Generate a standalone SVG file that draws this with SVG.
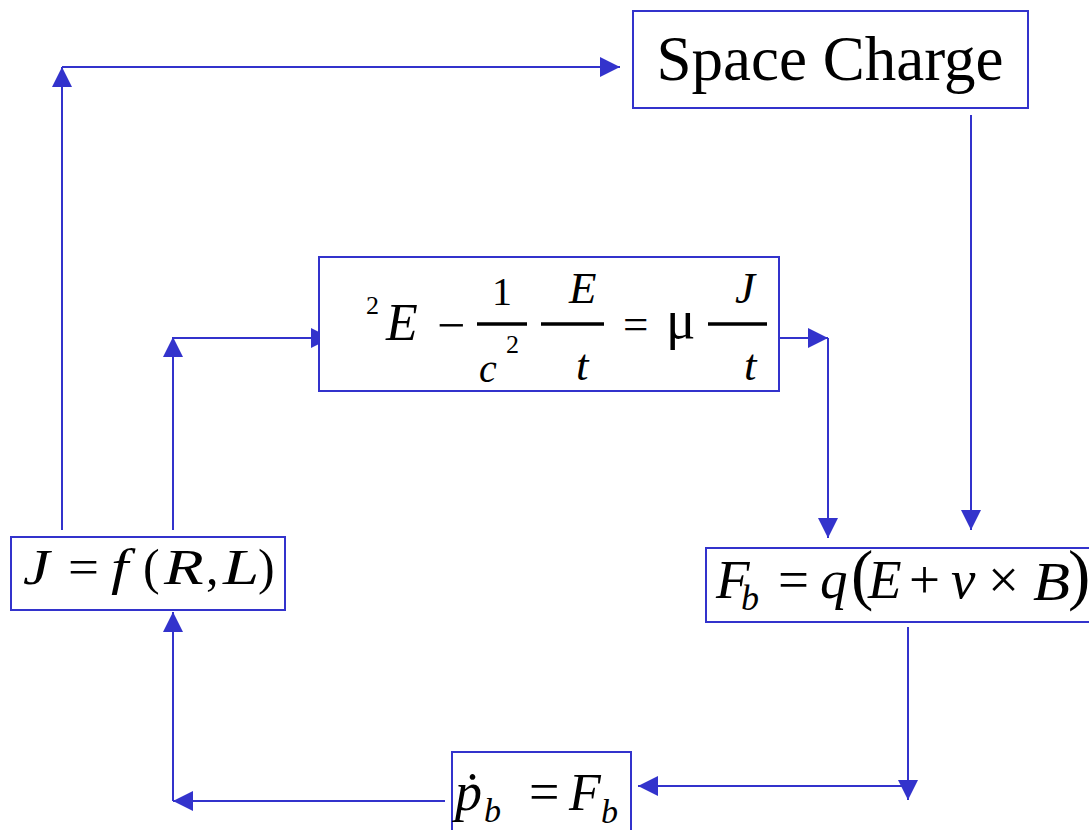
<svg xmlns="http://www.w3.org/2000/svg" width="1089" height="830" viewBox="0 0 1089 830">
<style>
.box{fill:#fff;stroke:#3333CC;stroke-width:2}
.ln{fill:none;stroke:#3333CC;stroke-width:2}
text{font-family:'Liberation Serif','Times New Roman',serif;fill:#000}
.i{font-style:italic}
.bar{stroke:#000;stroke-width:3.5}
</style>
<defs>
<marker id="ah" markerUnits="userSpaceOnUse" markerWidth="20" markerHeight="20" refX="20" refY="10" orient="auto" viewBox="0 0 20 20">
<path d="M0,0 L20,10 L0,20 z" fill="#3333CC"/>
</marker>
</defs>
<rect width="1089" height="830" fill="#fff"/>
<g id="connectors">
<path class="ln" d="M62,530 V67" marker-end="url(#ah)"/>
<path class="ln" d="M62,67 H620" marker-end="url(#ah)"/>
<path class="ln" d="M971,115 V530" marker-end="url(#ah)"/>
<path class="ln" d="M173,530 V337" marker-end="url(#ah)"/>
<path class="ln" d="M173,338 H331" marker-end="url(#ah)"/>
<path class="ln" d="M768,338 H828" marker-end="url(#ah)"/>
<path class="ln" d="M828,338 V538" marker-end="url(#ah)"/>
<path class="ln" d="M908,627 V800" marker-end="url(#ah)"/>
<path class="ln" d="M908,786 H638" marker-end="url(#ah)"/>
<path class="ln" d="M445,801 H173" marker-end="url(#ah)"/>
<path class="ln" d="M173,801 V612" marker-end="url(#ah)"/>
</g>
<g id="space-charge">
<rect class="box" x="633" y="11" width="395" height="97"/>
<text x="830" y="80" font-size="63" text-anchor="middle">Space Charge</text>
</g>
<g id="maxwell">
<rect class="box" x="319" y="257" width="460" height="134"/>
<text x="366" y="314" font-size="26">2</text>
<text class="i" x="386" y="340" font-size="52">E</text>
<text x="437" y="342" font-size="50">−</text>
<text x="492" y="305" font-size="40">1</text>
<line class="bar" x1="477" y1="324" x2="527" y2="324"/>
<text class="i" x="479" y="382" font-size="40">c</text>
<text x="506" y="353" font-size="26">2</text>
<line class="bar" x1="541" y1="324" x2="604" y2="324"/>
<text class="i" x="569" y="303" font-size="45">E</text>
<text class="i" x="576" y="380" font-size="45">t</text>
<text x="623" y="339" font-size="45">=</text>
<text x="666" y="338" font-size="55">μ</text>
<line class="bar" x1="708" y1="324" x2="767" y2="324"/>
<text class="i" x="735" y="303" font-size="45">J</text>
<text class="i" x="744" y="380" font-size="45">t</text>
</g>
<g id="current" font-size="50">
<rect class="box" x="11" y="537" width="274" height="73"/>
<text class="i" transform="translate(23,584) scale(1.2,1)">J</text>
<text transform="translate(68,584) scale(1.1,1)">=</text>
<text class="i" transform="translate(111,584) scale(1.25,1)">f</text>
<text transform="translate(143,584)">(</text>
<text class="i" transform="translate(164,584) scale(1.3,1)">R</text>
<text transform="translate(206,584)">,</text>
<text class="i" transform="translate(223,584) scale(1.3,1)">L</text>
<text transform="translate(258,584)">)</text>
</g>
<g id="lorentz">
<rect class="box" x="706" y="548" width="390" height="74"/>
<text class="i" x="716" y="598" font-size="55">F</text>
<text class="i" x="741" y="610" font-size="36">b</text>
<text x="778" y="598" font-size="55">=</text>
<text class="i" x="820" y="598" font-size="55">q</text>
<text x="851" y="597" font-size="67">(</text>
<text class="i" x="868" y="598" font-size="55">E</text>
<text x="909" y="598" font-size="55">+</text>
<text class="i" x="951" y="598" font-size="55">v</text>
<text x="988" y="598" font-size="55">×</text>
<text class="i" transform="translate(1033,600) scale(1.1,1)" font-size="55">B</text>
<text x="1068" y="597" font-size="67">)</text>
</g>
<g id="momentum">
<rect class="box" x="452" y="752" width="179" height="90"/>
<text class="i" x="455" y="810" font-size="54">ṗ</text>
<text class="i" x="484" y="822" font-size="34">b</text>
<text x="529" y="810" font-size="54">=</text>
<text class="i" x="569" y="810" font-size="52">F</text>
<text class="i" x="601" y="823" font-size="34">b</text>
</g>
</svg>
